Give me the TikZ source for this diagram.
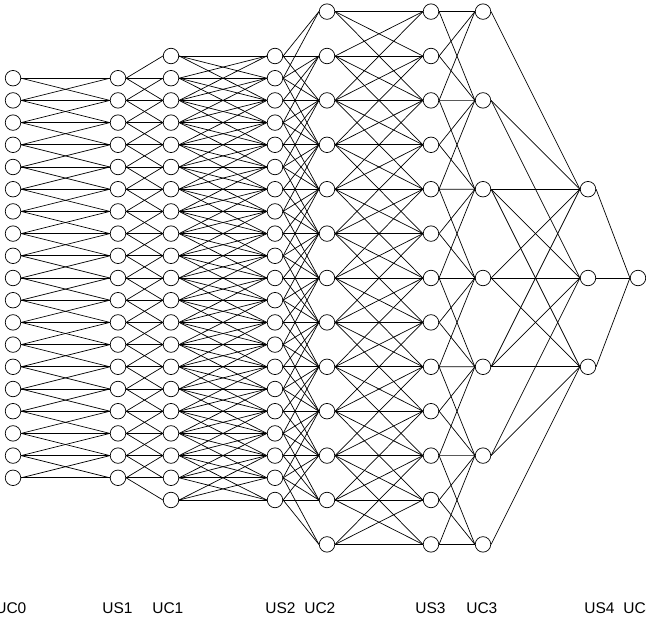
\documentclass[tikz,border=0pt]{standalone}
\usepackage{fontspec}
\setmainfont{Liberation Sans}
\usepackage{tikz}

\begin{document}
\begin{tikzpicture}[x=1pt,y=-1pt,line width=0.7pt,
    neuron/.style={draw,circle,fill=white,inner sep=0pt,minimum size=15.5pt},
    layername/.style={anchor=base west,inner sep=0pt,font=\fontsize{15.5}{18}\selectfont}]
    \useasboundingbox (0,0) rectangle (646,626);
    % cell planes, one column each
    \foreach \i in {0,...,18} {
        \node[neuron] (uc0-\i) at (13,{278+(\i-9)*22.2}) {};
        \node[neuron] (us1-\i) at (118,{278+(\i-9)*22.2}) {};
    }
    \foreach \i in {0,...,20} {
        \node[neuron] (uc1-\i) at (171,{278+(\i-10)*22.2}) {};
        \node[neuron] (us2-\i) at (275,{278+(\i-10)*22.2}) {};
    }
    \foreach \i in {0,...,12} {
        \node[neuron] (uc2-\i) at (327,{278+(\i-6)*44.4}) {};
        \node[neuron] (us3-\i) at (431,{278+(\i-6)*44.4}) {};
    }
    \foreach \i in {0,...,6}
        \node[neuron] (uc3-\i) at (483,{278+(\i-3)*88.8}) {};
    \foreach \i in {0,1,2}
        \node[neuron] (us4-\i) at (588,{278+(\i-1)*88.8}) {};
    \node[neuron] (uc4) at (638,278) {};
    % UC0 -> US1
    \foreach \i in {0,...,18} \foreach \j in {0,...,18} {
        \pgfmathtruncatemacro\d{abs(\i-\j)}
        \ifnum\d<2 \draw (uc0-\i.east) -- (us1-\j.west); \fi
    }
    % US1 -> UC1
    \foreach \i in {0,...,18} \foreach \j in {0,...,20} {
        \pgfmathtruncatemacro\d{abs(\i+1-\j)}
        \ifnum\d<2 \draw (us1-\i.east) -- (uc1-\j.west); \fi
    }
    % UC1 -> US2
    \foreach \i in {0,...,20} \foreach \j in {0,...,20} {
        \pgfmathtruncatemacro\d{abs(\i-\j)}
        \ifnum\d<3 \draw (uc1-\i.east) -- (us2-\j.west); \fi
    }
    % US2 -> UC2
    \foreach \i in {0,...,20} \foreach \j in {0,...,12} {
        \pgfmathtruncatemacro\d{abs(\i+2-2*\j)}
        \ifnum\d<4 \draw (us2-\i.east) -- (uc2-\j.west); \fi
    }
    % UC2 -> US3
    \foreach \i in {0,...,12} \foreach \j in {0,...,12} {
        \pgfmathtruncatemacro\d{abs(\i-\j)}
        \ifnum\d<3 \draw (uc2-\i.east) -- (us3-\j.west); \fi
    }
    % US3 -> UC3
    \foreach \i in {0,...,12} \foreach \j in {0,...,6} {
        \pgfmathtruncatemacro\d{abs(\i-2*\j)}
        \ifnum\d<3 \draw (us3-\i.east) -- (uc3-\j.west); \fi
    }
    % UC3 -> US4
    \foreach \i in {0,...,6} \foreach \j in {0,1,2} {
        \pgfmathtruncatemacro\d{abs(\i-\j-2)}
        \ifnum\d<3 \draw (uc3-\i.east) -- (us4-\j.west); \fi
    }
    % US4 -> UC4
    \foreach \j in {0,1,2}
        \draw (us4-\j.east) -- (uc4.west);
    % layer names
    \node[layername] (n-uc0) at (-5,613) {UC0};
    \node[layername] (n-us1) at (102,613) {US1};
    \node[layername] (n-uc1) at (152,613) {UC1};
    \node[layername] (n-us2) at (265,613) {US2};
    \node[layername] (n-uc2) at (304,613) {UC2};
    \node[layername] (n-us3) at (415,613) {US3};
    \node[layername] (n-uc3) at (466,613) {UC3};
    \node[layername] (n-us4) at (584,613) {US4};
    \node[layername] (n-uc4) at (623,613) {UC4};
\end{tikzpicture}
\end{document}
